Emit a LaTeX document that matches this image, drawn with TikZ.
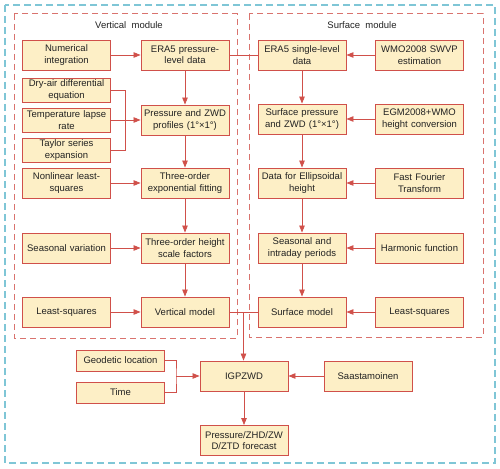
\documentclass[tikz,border=0pt]{standalone}
\usepackage{fontspec}
\setmainfont{Liberation Sans}
\usetikzlibrary{arrows.meta, positioning, calc}
\definecolor{gpRed}{HTML}{D0504A}
\definecolor{gpFill}{HTML}{FDEFC6}
\definecolor{gpDash}{HTML}{D9736E}
\definecolor{gpBlue}{HTML}{7FC6D6}
\definecolor{gpText}{HTML}{222222}
\tikzset{
  gpbox/.style={rectangle, draw=gpRed, line width=0.9pt, fill=gpFill, text=gpText,
                font=\fontsize{9.5}{11.5}\selectfont, align=center,
                text width=86pt, inner sep=1pt, minimum height=30pt},
  gpsmall/.style={gpbox, minimum height=24pt},
  gptiny/.style={gpbox, minimum height=21pt},
  gpflow/.style={-{Triangle[length=7pt, width=5.5pt]}, line width=0.8pt, draw=gpRed},
  gpline/.style={line width=0.8pt, draw=gpRed},
  gpmodule/.style={draw=gpDash, dash pattern=on 6pt off 4pt, line width=1pt},
  gpouter/.style={draw=gpBlue, dash pattern=on 7pt off 4pt, line width=1.5pt},
  gptitle/.style={text=gpText, font=\fontsize{9.5}{11.5}\selectfont},
}
\begin{document}
\begin{tikzpicture}[x=1pt, y=-1pt]
  \useasboundingbox (0,0) rectangle (500,468);
  \draw[gpouter] (5,5) rectangle (495,463);
  \draw[gpmodule] (14,14) rectangle (237,338);
  \draw[gpmodule] (249,14) rectangle (483,337);
  \node[gptitle] (vtitle) at (129,25) {Vertical\ \ module};
  \node[gptitle] (stitle) at (362,25) {Surface\ \ module};
  % vertical module
  \node[gpbox] (num) at (66.5,55) {Numerical\\integration};
  \node[gpbox] (era5p) at (185,55) {ERA5 pressure-\\level data};
  \node[gpsmall] (dry) at (66.5,90) {Dry-air differential\\equation};
  \node[gpsmall] (lapse) at (66.5,120) {Temperature lapse\\rate};
  \node[gpsmall] (taylor) at (66.5,150) {Taylor series\\expansion};
  \node[gpbox] (pzwd) at (185,120) {Pressure and ZWD\\profiles (1°×1°)};
  \node[gpbox] (nls) at (66.5,183) {Nonlinear least-\\squares};
  \node[gpbox] (expfit) at (185,183) {Three-order\\exponential fitting};
  \node[gpbox] (seas) at (66.5,248) {Seasonal variation};
  \node[gpbox] (hsf) at (185,248) {Three-order height\\scale factors};
  \node[gpbox] (lsv) at (66.5,312) {Least-squares};
  \node[gpbox] (vmod) at (185,312) {Vertical model};
  % surface module
  \node[gpbox] (era5s) at (302,55) {ERA5 single-level\\data};
  \node[gpbox] (wmo) at (419.5,55) {WMO2008 SWVP\\estimation};
  \node[gpbox] (spzwd) at (302,119) {Surface pressure\\and ZWD (1°×1°)};
  \node[gpbox] (egm) at (419.5,119) {EGM2008+WMO\\height conversion};
  \node[gpbox] (ellh) at (302,183) {Data for Ellipsoidal\\height};
  \node[gpbox] (fft) at (419.5,183) {Fast Fourier\\Transform};
  \node[gpbox] (sip) at (302,248) {Seasonal and\\intraday periods};
  \node[gpbox] (harm) at (419.5,248) {Harmonic function};
  \node[gpbox] (smod) at (302,312) {Surface model};
  \node[gpbox] (lss) at (419.5,312) {Least-squares};
  % output part
  \node[gptiny] (geo) at (120.5,360.5) {Geodetic location};
  \node[gptiny] (time) at (120.5,392.5) {Time};
  \node[gpbox] (igp) at (244,376) {IGPZWD};
  \node[gpbox] (saas) at (368,376) {Saastamoinen};
  \node[gpbox] (fc) at (244,440.5) {Pressure/ZHD/ZW\\D/ZTD forecast};
  \coordinate (vs) at ($(vmod.east)!0.5!(smod.west)$);
  \coordinate (gt) at (176,376);

  \draw[gpflow] (num) -- (era5p);
  \draw[gpline] (era5p) -- (era5s);
  \draw[gpflow] (era5p) -- (pzwd);
  \draw[gpline] (dry.east) -- ++(14,0) |- (taylor.east);
  \draw[gpflow] (lapse) -- (pzwd);
  \draw[gpflow] (pzwd) -- (expfit);
  \draw[gpflow] (nls) -- (expfit);
  \draw[gpflow] (expfit) -- (hsf);
  \draw[gpflow] (seas) -- (hsf);
  \draw[gpflow] (hsf) -- (vmod);
  \draw[gpflow] (lsv) -- (vmod);
  \draw[gpflow] (wmo) -- (era5s);
  \draw[gpflow] (era5s) -- (spzwd);
  \draw[gpflow] (egm) -- (spzwd);
  \draw[gpflow] (spzwd) -- (ellh);
  \draw[gpflow] (fft) -- (ellh);
  \draw[gpflow] (ellh) -- (sip);
  \draw[gpflow] (harm) -- (sip);
  \draw[gpflow] (sip) -- (smod);
  \draw[gpflow] (lss) -- (smod);
  \draw[gpline] (vmod) -- (smod);
  \draw[gpflow] (vs) -- (vs |- igp.north);
  \draw[gpline] (geo.east) -| (gt) |- (time.east);
  \draw[gpflow] (gt) -- (igp);
  \draw[gpflow] (saas) -- (igp);
  \draw[gpflow] (igp) -- (fc);
\end{tikzpicture}
\end{document}
